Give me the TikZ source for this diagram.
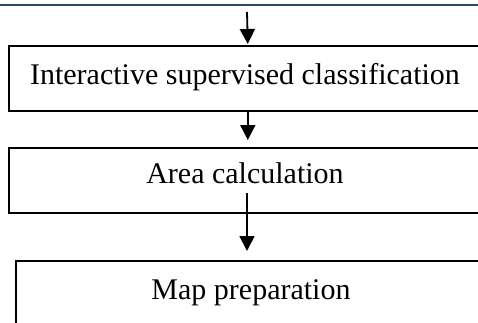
\documentclass[tikz,border=0pt]{standalone}
\usepackage{fontspec}
\setmainfont{Liberation Serif}
\usetikzlibrary{arrows.meta}
\begin{document}
\begin{tikzpicture}[x=1pt,y=-1pt,
  stepbox/.style={draw,line width=1.6pt,minimum height=65pt,inner sep=0pt,anchor=north west},
  steplabel/.style={font=\fontsize{30}{34}\selectfont,inner sep=0pt,anchor=base},
  flow/.style={line width=1.8pt,-{Triangle[width=15pt,length=15pt]}}]
  \useasboundingbox (0,0) rectangle (478,322);
  \clip (0,0) rectangle (478,322);
  % rule under the heading
  \draw[line width=2.5pt,color={rgb,255:red,44;green,72;blue,104}] (0,5) -- (478,5);
  % process boxes
  \node[stepbox,minimum width=478pt] (b1) at (8,45) {};
  \node[stepbox,minimum width=478pt] (b2) at (8,147) {};
  \node[stepbox,minimum width=478pt,minimum height=80pt] (b3) at (15,260) {};
  % labels
  \node[steplabel] (t1) at (245,84) {Interactive supervised classification};
  \node[steplabel] (t2) at (245,183) {Area calculation};
  \node[steplabel] (t3) at (251,299) {Map preparation};
  % connectors
  \coordinate (in) at (247,12);
  \coordinate (mid) at (247,193);
  \draw[flow,shorten >=1pt] (in) -- (b1.north);
  \draw[flow,shorten >=7pt] (b1.south) -- (b2.north);
  \draw[flow,shorten >=9pt] (mid) -- (mid |- b3.north);
\end{tikzpicture}
\end{document}
